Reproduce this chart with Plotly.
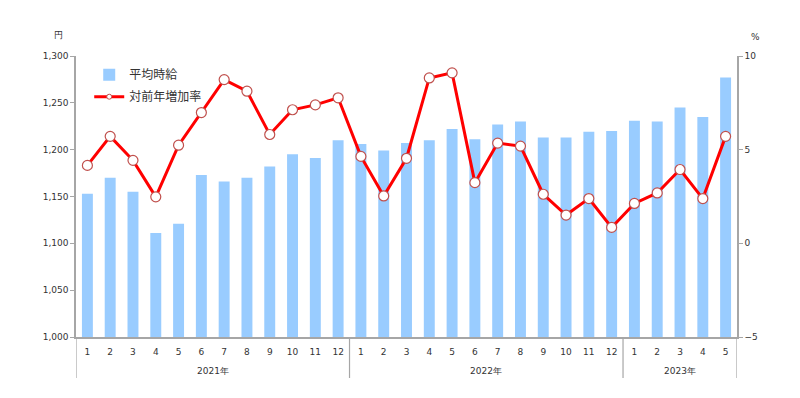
import plotly.graph_objects as go

months = ["1","2","3","4","5","6","7","8","9","10","11","12",
          "1","2","3","4","5","6","7","8","9","10","11","12",
          "1","2","3","4","5"]
years = ["2021年", "2022年", "2023年"]
year_counts = [12, 12, 5]

wage = [1153, 1170, 1155, 1111, 1121, 1173, 1166, 1170, 1182, 1195, 1191, 1210,
        1206, 1199, 1207, 1210, 1222, 1211, 1227, 1230, 1213, 1213, 1219, 1220,
        1231, 1230, 1245, 1235, 1277]
growth = [4.16, 5.71, 4.43, 2.48, 5.24, 6.98, 8.74, 8.12, 5.81, 7.13, 7.39, 7.77,
          4.64, 2.53, 4.54, 8.83, 9.10, 3.24, 5.35, 5.19, 2.62, 1.51, 2.39, 0.85,
          2.13, 2.69, 3.94, 2.39, 5.71]

x = list(range(len(months)))
txt = "#333333"
axc = "#a6a6a6"
font = "DejaVu Sans"

fig = go.Figure()
fig.add_trace(go.Bar(x=x, y=wage, name="平均時給", marker=dict(color="#99ccff", line=dict(width=0)),
                     width=0.48, yaxis="y", legendgroup="a"))
fig.add_trace(go.Scatter(x=x, y=growth, name="対前年増加率", mode="lines+markers", yaxis="y2",
                         line=dict(color="#ff0000", width=3), showlegend=False,
                         marker=dict(symbol="circle", size=10, color="white",
                                     line=dict(color="#c0504d", width=1.2))))
# legend entry with a small marker, as in the original
fig.add_trace(go.Scatter(x=[None], y=[None], name="対前年増加率", mode="lines+markers", yaxis="y2",
                         line=dict(color="#ff0000", width=3), legendgroup="b",
                         marker=dict(symbol="circle", size=5, color="white",
                                     line=dict(color="#c0504d", width=1))))

shapes = []
bounds = [-0.5]
for c in year_counts:
    bounds.append(bounds[-1] + c)
for b in bounds:
    shapes.append(dict(type="line", xref="x", yref="paper", x0=b, x1=b, y0=0, y1=-0.146,
                       line=dict(color=axc, width=1.2)))

annotations = []
for i, yl in enumerate(years):
    center = (bounds[i] + bounds[i + 1]) / 2
    annotations.append(dict(x=center, y=-0.121, xref="x", yref="paper", text=yl, showarrow=False,
                            font=dict(size=9, color=txt, family=font), yanchor="middle"))
annotations.append(dict(x=-0.027, y=1.075, xref="paper", yref="paper", text="円", showarrow=False,
                        xanchor="center", yanchor="middle",
                        font=dict(size=9, color=txt, family=font)))
annotations.append(dict(x=1.0287, y=1.0676, xref="paper", yref="paper", text="%", showarrow=False,
                        xanchor="center", yanchor="middle",
                        font=dict(size=9, color=txt, family=font)))

fig.update_layout(
    width=784, height=382,
    margin=dict(l=68, r=55, t=48, b=53),
    plot_bgcolor="white", paper_bgcolor="white",
    font=dict(family=font, size=9, color=txt),
    showlegend=True,
    legend=dict(x=0.02, y=0.985, xanchor="left", yanchor="top", bgcolor="rgba(0,0,0,0)",
                font=dict(size=12, color=txt, family="Noto Sans CJK JP"), itemwidth=30,
                tracegroupgap=3),
    xaxis=dict(range=[-0.5, 28.5], tickmode="array", tickvals=x, ticktext=months,
               showgrid=False, zeroline=False, showline=True, linecolor=axc, linewidth=1.5,
               ticks="outside", ticklen=5, tickcolor="rgba(0,0,0,0)", tickfont=dict(size=9)),
    yaxis=dict(range=[1000, 1300], dtick=50, tickformat=",d", showgrid=False, zeroline=False,
               showline=True, linecolor=axc, linewidth=1.5, ticks="outside", ticklen=4,
               tickcolor=axc, tickfont=dict(size=9)),
    yaxis2=dict(range=[-5, 10], dtick=5, overlaying="y", side="right", showgrid=False,
                zeroline=False, showline=True, linecolor=axc, linewidth=1.5, ticks="outside",
                ticklen=4, tickcolor=axc, tickfont=dict(size=9)),
    shapes=shapes, annotations=annotations, bargap=0.5,
)

fig.write_html("out.html")
